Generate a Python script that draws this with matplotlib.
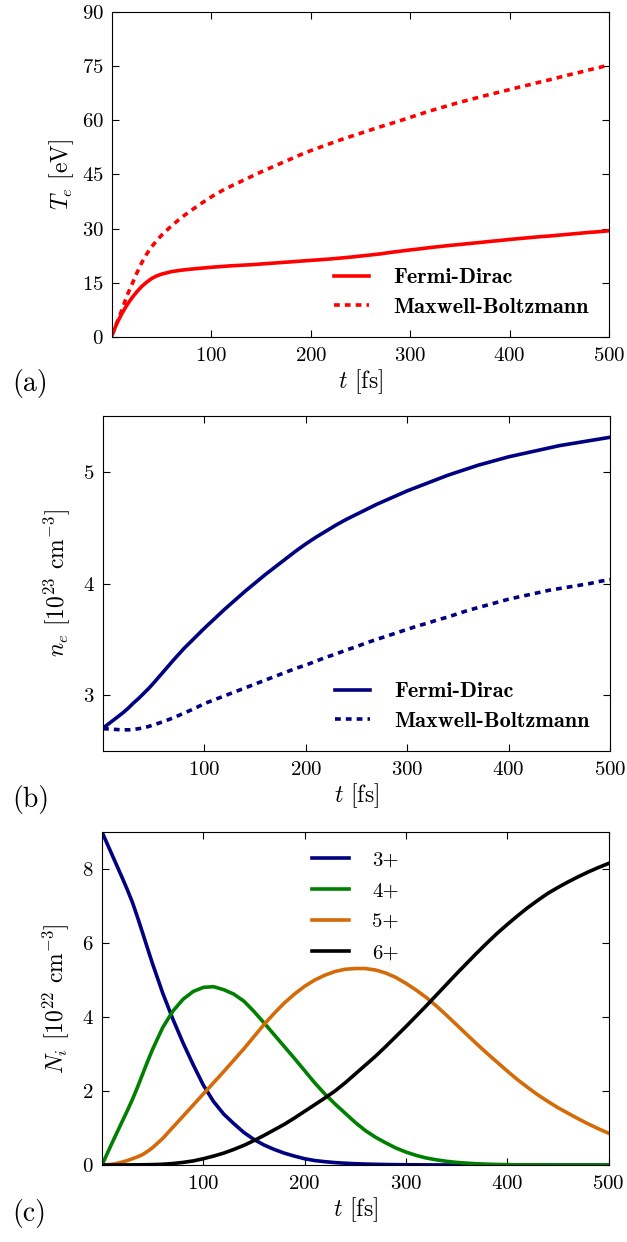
import numpy as np
import matplotlib
matplotlib.use("Agg")
import matplotlib.pyplot as plt

plt.rcParams['font.family'] = 'cmr10'
plt.rcParams['mathtext.fontset'] = 'cm'
plt.rcParams['axes.formatter.use_mathtext'] = True
plt.rcParams['xtick.direction'] = 'in'
plt.rcParams['ytick.direction'] = 'in'
plt.rcParams['xtick.top'] = True
plt.rcParams['ytick.right'] = True
plt.rcParams['xtick.major.size'] = 5
plt.rcParams['ytick.major.size'] = 5
plt.rcParams['xtick.major.pad'] = 7
plt.rcParams['ytick.major.pad'] = 6

# time grid [fs]
t = [0, 5, 10, 15, 20, 25, 30, 35, 40, 45, 50,
     60, 70, 80, 90, 100,
     110, 120, 130, 140, 150, 160, 170, 180, 190, 200,
     210, 220, 230, 240, 250, 260, 270, 280, 290, 300,
     310, 320, 330, 340, 350, 360, 370, 380, 390, 400,
     410, 420, 430, 440, 450, 460, 470, 480, 490, 500]

# electron temperature [eV]
te_fd = [0.5, 3.8, 6.5, 8.8, 10.8, 12.5, 14.0, 15.2, 16.2, 16.9, 17.4,
         18.1, 18.5, 18.8, 19.05, 19.3,
         19.5, 19.7, 19.85, 20.0, 20.2, 20.4, 20.6, 20.8, 21.0, 21.2,
         21.4, 21.6, 21.85, 22.1, 22.4, 22.7, 23.0, 23.4, 23.75, 24.1,
         24.4, 24.75, 25.05, 25.35, 25.6, 25.9, 26.15, 26.45, 26.7, 27.0,
         27.25, 27.5, 27.75, 27.95, 28.2, 28.45, 28.7, 28.95, 29.15, 29.4]
te_mb = [0.5, 4.0, 7.5, 11.4, 14.5, 17.7, 20.6, 23.0, 25.0, 26.7, 28.2,
         30.8, 33.1, 35.1, 37.0, 38.8,
         40.4, 41.8, 43.1, 44.4, 45.7, 46.9, 48.1, 49.3, 50.5, 51.6,
         52.6, 53.6, 54.6, 55.5, 56.4, 57.3, 58.2, 59.05, 59.9, 60.8,
         61.7, 62.6, 63.4, 64.2, 65.0, 65.7, 66.45, 67.15, 67.8, 68.5,
         69.2, 69.85, 70.55, 71.2, 71.9, 72.6, 73.25, 73.95, 74.6, 75.3]

# electron density [1e23 cm^-3]
ne_fd = [2.705, 2.74, 2.775, 2.81, 2.845, 2.885, 2.93, 2.97, 3.015, 3.06, 3.11,
         3.215, 3.32, 3.42, 3.51, 3.60,
         3.685, 3.77, 3.85, 3.93, 4.005, 4.08, 4.15, 4.22, 4.29, 4.355,
         4.415, 4.47, 4.525, 4.575, 4.62, 4.665, 4.71, 4.75, 4.79, 4.83,
         4.865, 4.9, 4.935, 4.97, 5.0, 5.03, 5.06, 5.085, 5.11, 5.135,
         5.155, 5.175, 5.195, 5.215, 5.235, 5.25, 5.265, 5.28, 5.295, 5.31]
ne_mb = [2.70, 2.698, 2.695, 2.692, 2.69, 2.69, 2.693, 2.70, 2.708, 2.72, 2.735,
         2.765, 2.80, 2.84, 2.88, 2.925,
         2.96, 2.995, 3.03, 3.065, 3.10, 3.135, 3.17, 3.205, 3.24, 3.27,
         3.305, 3.34, 3.37, 3.405, 3.435, 3.47, 3.50, 3.53, 3.56, 3.59,
         3.62, 3.645, 3.675, 3.70, 3.73, 3.76, 3.785, 3.81, 3.835, 3.86,
         3.88, 3.90, 3.92, 3.94, 3.955, 3.97, 3.985, 4.00, 4.02, 4.035]

# ion populations [1e22 cm^-3]
n3 = [9.0, 8.69, 8.38, 8.07, 7.76, 7.44, 7.1, 6.7, 6.28, 5.85, 5.43,
      4.64, 3.94, 3.30, 2.71, 2.16,
      1.72, 1.38, 1.12, 0.88, 0.69, 0.54, 0.42, 0.32, 0.24, 0.17,
      0.12, 0.09, 0.065, 0.048, 0.035, 0.025, 0.018, 0.013, 0.009, 0.007,
      0.005, 0.003, 0.002, 0.001, 0.0, 0.0, 0.0, 0.0, 0.0, 0.0,
      0.0, 0.0, 0.0, 0.0, 0.0, 0.0, 0.0, 0.0, 0.0, 0.0]
n4 = [0.0, 0.3, 0.6, 0.89, 1.18, 1.47, 1.77, 2.1, 2.45, 2.8, 3.13,
      3.72, 4.16, 4.48, 4.69, 4.8,
      4.82, 4.74, 4.62, 4.43, 4.15, 3.84, 3.52, 3.2, 2.88, 2.55,
      2.22, 1.92, 1.65, 1.40, 1.15, 0.93, 0.75, 0.6, 0.46, 0.35,
      0.26, 0.19, 0.14, 0.1, 0.07, 0.05, 0.033, 0.022, 0.014, 0.009,
      0.005, 0.003, 0.002, 0.001, 0.0, 0.0, 0.0, 0.0, 0.0, 0.0]
n5 = [0.0, 0.005, 0.02, 0.045, 0.08, 0.12, 0.17, 0.22, 0.28, 0.37, 0.47,
      0.72, 1.02, 1.32, 1.62, 1.92,
      2.22, 2.52, 2.83, 3.14, 3.47, 3.8, 4.1, 4.38, 4.62, 4.83,
      5.0, 5.13, 5.23, 5.29, 5.31, 5.31, 5.27, 5.19, 5.07, 4.91,
      4.73, 4.53, 4.3, 4.05, 3.79, 3.53, 3.27, 3.02, 2.78, 2.54,
      2.31, 2.1, 1.9, 1.72, 1.55, 1.4, 1.25, 1.11, 0.98, 0.86]
n6 = [0.0, 0.0, 0.0, 0.0, 0.001, 0.002, 0.003, 0.004, 0.006, 0.008, 0.011,
      0.02, 0.04, 0.07, 0.11, 0.17,
      0.24, 0.32, 0.42, 0.53, 0.66, 0.8, 0.95, 1.1, 1.27, 1.45,
      1.63, 1.81, 2.0, 2.22, 2.46, 2.7, 2.94, 3.2, 3.47, 3.74,
      4.02, 4.3, 4.59, 4.88, 5.17, 5.45, 5.73, 6.0, 6.26, 6.5,
      6.73, 6.95, 7.15, 7.34, 7.5, 7.65, 7.79, 7.92, 8.04, 8.15]

ion_labels = ['3+', '4+', '5+', '6+']
ion_colors = ['#000080', '#008000', '#d46b08', '#000000']

xticks = [100, 200, 300, 400, 500]
lw = 2.6
dots = (0, (1.6, 1.4))

fig = plt.figure(figsize=(6.27, 12.42), dpi=100)

# (a) electron temperature
ax1 = fig.add_axes([0.1786, 0.7287, 0.7927, 0.2617])
ax1.plot(t, te_fd, color='red', lw=lw, label='Fermi-Dirac')
ax1.plot(t, te_mb, color='red', lw=lw, ls=dots, label='Maxwell-Boltzmann')
ax1.set_xlim(0, 500)
ax1.set_ylim(0, 90)
ax1.set_xticks(xticks)
ax1.set_yticks(np.arange(0, 91, 15))
ax1.set_xlabel(r'$t$ [fs]', fontsize=17, labelpad=2)
ax1.set_ylabel(r'$T_e$ [eV]', fontsize=17, labelpad=4)
ax1.legend(loc='lower right', frameon=False, prop={'family': 'cmb10', 'size': 16},
           handlelength=1.6, handletextpad=1.1, borderaxespad=0.5, labelspacing=0.45)

# (b) electron density
ax2 = fig.add_axes([0.1643, 0.3953, 0.8086, 0.2697])
ax2.plot(t, ne_fd, color='#000080', lw=lw, label='Fermi-Dirac')
ax2.plot(t, ne_mb, color='#000080', lw=lw, ls=dots, label='Maxwell-Boltzmann')
ax2.set_xlim(0, 500)
ax2.set_ylim(2.5, 5.5)
ax2.set_xticks(xticks)
ax2.set_yticks([3, 4, 5])
ax2.set_xlabel(r'$t$ [fs]', fontsize=17, labelpad=2)
ax2.set_ylabel(r'$n_e$ [$10^{23}$ cm$^{-3}$]', fontsize=17, labelpad=8)
ax2.legend(loc='lower right', frameon=False, prop={'family': 'cmb10', 'size': 16},
           handlelength=1.6, handletextpad=1.1, borderaxespad=0.5, labelspacing=0.45)

# (c) ion charge states
ax3 = fig.add_axes([0.1627, 0.0620, 0.8078, 0.2681])
for vals, lab, col in zip([n3, n4, n5, n6], ion_labels, ion_colors):
    ax3.plot(t, vals, color=col, lw=lw, label=lab)
ax3.set_xlim(0, 500)
ax3.set_ylim(0, 9)
ax3.set_xticks(xticks)
ax3.set_yticks([0, 2, 4, 6, 8])
ax3.set_xlabel(r'$t$ [fs]', fontsize=17, labelpad=2)
ax3.set_ylabel(r'$N_i$ [$10^{22}$ cm$^{-3}$]', fontsize=17, labelpad=8)
ax3.legend(loc='upper center', frameon=False, prop={'size': 15},
           handlelength=1.8, handletextpad=1.1, labelspacing=0.6,
           bbox_to_anchor=(0.5, 1.0))

for ax in (ax1, ax2, ax3):
    ax.tick_params(labelsize=15)

fig.text(12 / 627, 1 - 383 / 1242, '(a)', fontsize=20, va='center')
fig.text(12 / 627, 1 - 800 / 1242, '(b)', fontsize=20, va='center')
fig.text(12 / 627, 1 - 1214 / 1242, '(c)', fontsize=20, va='center')

fig.savefig('out.png', dpi=100)
